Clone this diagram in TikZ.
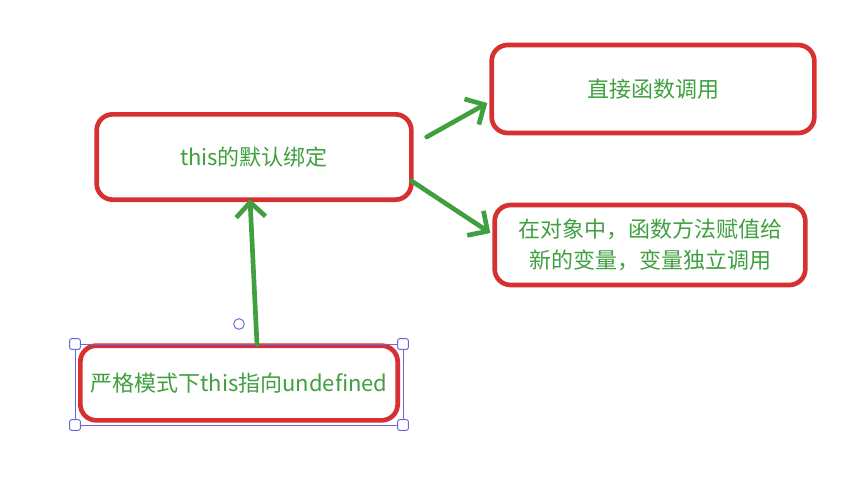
\documentclass[tikz,border=0pt]{standalone}
\usepackage{fontspec}
\newfontfamily\cjk{Noto Sans CJK SC}
\usetikzlibrary{positioning, arrows.meta}

\definecolor{boxred}{RGB}{214,48,49}
\definecolor{textgreen}{RGB}{64,160,64}
\definecolor{selblue}{RGB}{105,101,219}

\tikzset{
    rule/.style={draw=boxred, line width=3.5pt, rounded corners=12pt, fill=white,
        text=textgreen, font=\cjk\fontsize{16.5}{23}\selectfont, align=center},
    link/.style={draw=textgreen, line width=3.5pt, line cap=round,
        -{Straight Barb[length=11pt, width=22pt, line width=3.5pt]}},
    handle/.style={draw=selblue, line width=0.7pt, fill=white, rounded corners=1.5pt,
        minimum size=8pt, inner sep=0pt}
}

\begin{document}
\begin{tikzpicture}[x=0.75pt, y=-0.75pt]
    \useasboundingbox (0,0) rectangle (865,480);

    % Boxes
    \node[rule, minimum width=236pt, minimum height=64pt] (default) at (254,157) {this的默认绑定};
    \node[rule, minimum width=242pt, minimum height=66pt] (direct) at (653,89) {直接函数调用};
    \node[rule, minimum width=233pt, minimum height=60pt] (assign) at (650,245)
        {在对象中，函数方法赋值给\\新的变量，变量独立调用};
    \node[rule, minimum width=238pt, minimum height=56pt] (strict) at (239,383) {严格模式下this指向undefined};

    % Selection frame round the strict box
    \draw[selblue, line width=0.7pt] (75,344) rectangle (403,425);
    \node[handle] (h1) at (75,344) {};
    \node[handle] (h2) at (403,344) {};
    \node[handle] (h3) at (75,425) {};
    \node[handle] (h4) at (403,425) {};
    \node[handle, circle] (rot) at (239,324) {};

    % Arrows
    \draw[link] ([shift={(18,1)}]strict.north) -- ([shift={(-4,-3)}]default.south);
    \draw[link] ([shift={(13,-20)}]default.east) -- ([shift={(-2,14)}]direct.west);
    \draw[link] ([shift={(-2,24)}]default.east) -- ([shift={(-2,-12)}]assign.west);
\end{tikzpicture}
\end{document}
